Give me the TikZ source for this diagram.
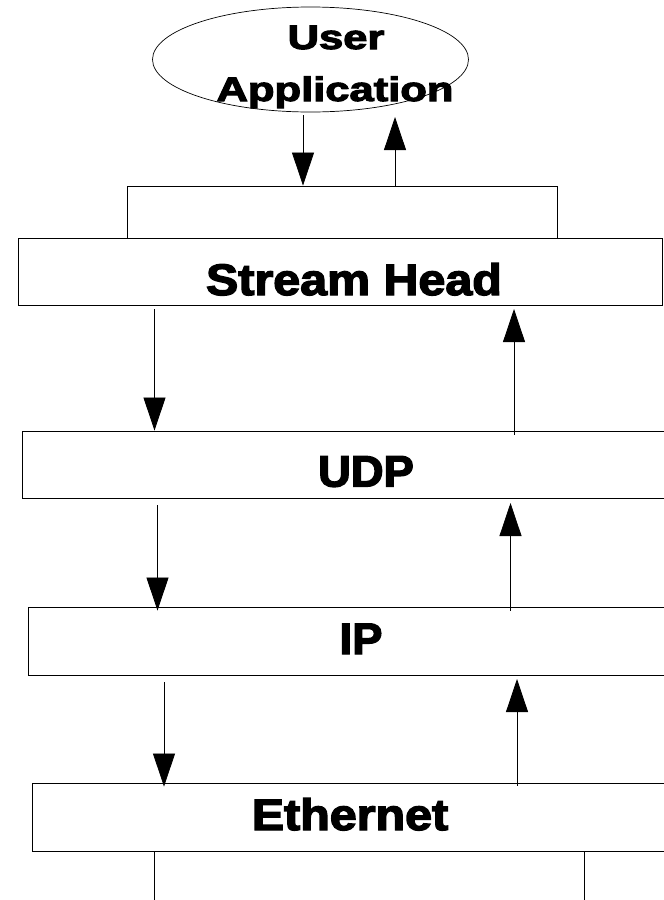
\documentclass[tikz,border=0pt]{standalone}
\usepackage{fontspec}
\setmainfont{Liberation Sans}
\newfontfamily\heavy{Liberation Sans}[BoldFeatures={FakeBold=3}]
\usetikzlibrary{shapes.geometric,arrows.meta}
\tikzset{
  layer/.style={draw=black, line width=0.9pt, rectangle, inner sep=0pt},
  appl/.style={draw=black, line width=0.7pt, ellipse, inner sep=0pt, minimum width=316, minimum height=105},
  boxlbl/.style={anchor=base, inner sep=0pt, font=\heavy\bfseries\fontsize{44}{44}\selectfont},
  elllbl/.style={anchor=base, inner sep=0pt, font=\heavy\bfseries\fontsize{34}{34}\selectfont},
  arr/.style={line width=0.8pt, -{Triangle[length=33pt,width=22pt]}}
}
\begin{document}
\begin{tikzpicture}[x=1pt,y=-1pt]
\useasboundingbox (0,0) rectangle (664,900);
\clip (0,0) rectangle (664,900);
\fill[white] (0,0) rectangle (664,900);
% ellipse
\node[appl] (ua) at (310.5,59.5) {};
\node[elllbl] (t1) at (336,49) {\scalebox{1.28}[1]{User}};
\node[elllbl] (t2) at (335,101) {\scalebox{1.28}[1]{Application}};
% boxes
\node[layer, minimum width=430, minimum height=52] (ur) at (342,212) {};
\node[layer, minimum width=644, minimum height=67] (sh) at (340.5,271.5) {};
\node[layer, minimum width=658, minimum height=67.5] (udp) at (351,464.75) {};
\node[layer, minimum width=651.3, minimum height=68] (ip) at (354.35,641) {};
\node[layer, minimum width=648, minimum height=68] (eth) at (356,817) {};
\node[layer, minimum width=430, minimum height=69] (br) at (369,885.5) {};
% labels
\node[boxlbl] (l1) at (354,295) {\scalebox{1.1}[1]{Stream Head}};
\node[boxlbl] (l2) at (366,486.5) {\scalebox{1.03}[1]{UDP}};
\node[boxlbl] (l3) at (361,654) {\scalebox{1.03}[1]{IP}};
\node[boxlbl] (l4) at (350,830) {\scalebox{1.1}[1]{Ethernet}};
% arrow start coordinates
\coordinate (d1) at (303,115);
\coordinate (u1) at (395,117);
\coordinate (d2) at (154.5,309);
\coordinate (u2) at (514,309);
\coordinate (d3) at (157.5,505);
\coordinate (u3) at (510.5,503);
\coordinate (d4) at (164,682);
\coordinate (u4) at (517,679);
% arrows
\draw[arr] (d1) -- (d1 |- ur.north);
\draw[arr] (u1 |- ur.north) -- (u1);
\draw[arr] (d2) -- (d2 |- udp.north);
\draw[arr] ([yshift=-4pt]u2 |- udp.north) -- (u2);
\draw[arr] (d3) -- ([yshift=-4pt]d3 |- ip.north);
\draw[arr] ([yshift=-4pt]u3 |- ip.north) -- (u3);
\draw[arr] (d4) -- ([yshift=-4pt]d4 |- eth.north);
\draw[arr] ([yshift=-3pt]u4 |- eth.north) -- (u4);
\end{tikzpicture}
\end{document}
